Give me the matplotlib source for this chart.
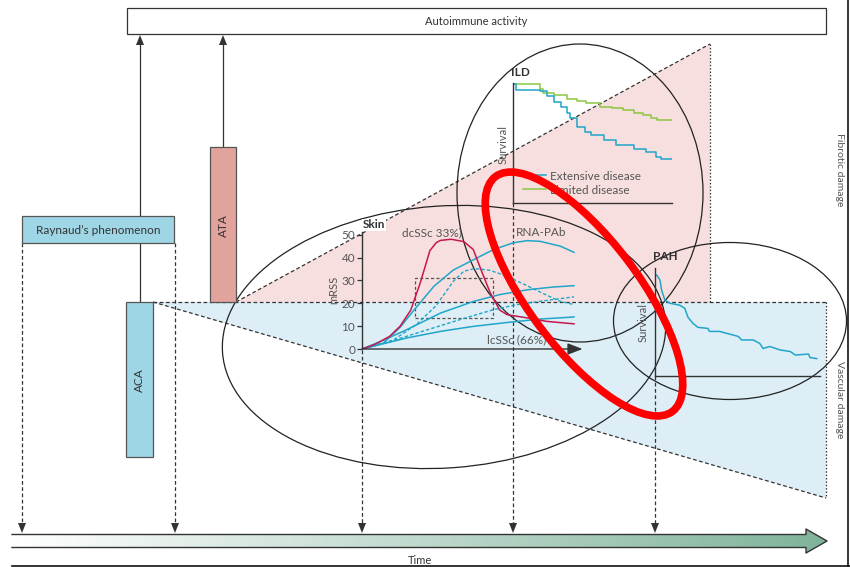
import numpy as np
import matplotlib
matplotlib.use("Agg")
import matplotlib.pyplot as plt
from matplotlib.patches import Polygon, Rectangle, Ellipse
from matplotlib.colors import LinearSegmentedColormap
from matplotlib.lines import Line2D

plt.rcParams['font.family'] = ['Lato', 'DejaVu Sans']

W, H = 850, 567

# skin score (mRSS) courses, time in arbitrary units 0-10
dcssc_t = [0, 0.6, 1.3, 1.8, 2.3, 2.75, 3.2, 3.5, 3.7, 4.2, 4.8, 5.25, 5.6, 6.05, 6.5, 6.85, 7.8, 8.7, 10]
dcssc_v = [0, 2.0, 5.5, 10, 17, 29, 43, 46.5, 47.5, 48, 47, 43.5, 35, 24.5, 17, 15, 13.6, 12.1, 11]

rnapab_t = [0, 1.0, 1.8, 2.45, 3.4, 4.3, 5.25, 6.2, 7.15, 7.8, 8.4, 9.35, 10]
rnapab_v = [0, 2.5, 9.5, 17, 27.5, 34.5, 39, 43.5, 46.5, 47.4, 47.1, 45, 42.3]

mid_t = [0, 1.0, 2.1, 3.7, 5.25, 6.5, 7.8, 9.0, 10]
mid_v = [0, 3.8, 8.4, 15.7, 20.8, 23.8, 25.9, 27.1, 27.7]

low_t = [0, 2.1, 3.7, 5.25, 6.85, 8.4, 10]
low_v = [0, 4.8, 7.7, 9.9, 11.6, 13.1, 14.0]

dash_hi_t = [0, 1.5, 2.6, 3.5, 4.3, 4.8, 5.3, 6.0, 6.8, 7.6, 8.5, 9.3, 10]
dash_hi_v = [0, 4, 11, 19, 29.5, 34, 35.2, 34.5, 32, 28.5, 24.5, 21, 19.4]

dash_lo_t = [0, 1.3, 2.6, 4.6, 6.2, 7.3, 8.5, 10]
dash_lo_v = [0, 3.2, 7, 12.8, 17.2, 19.4, 21, 22.8]

skin_box = (2.5, 6.2, 13.5, 31)   # t0, t1, v0, v1
skin_ticks = [0, 10, 20, 30, 40, 50]

# ILD survival
ild_lim_t = [0, 1.7, 1.9, 2.6, 3.4, 4.0, 4.6, 5.5, 6.2, 6.9, 7.6, 8.2, 8.7, 9.1, 10]
ild_lim_s = [1.0, 0.96, 0.93, 0.91, 0.88, 0.86, 0.84, 0.81, 0.80, 0.78, 0.76, 0.74, 0.72, 0.70, 0.70]
ild_ext_t = [0, 0.2, 1.7, 2.1, 2.6, 3.0, 3.4, 3.6, 4.0, 4.5, 4.9, 5.7, 6.5, 7.6, 8.4, 9.0, 9.3, 10]
ild_ext_s = [1.0, 0.95, 0.94, 0.90, 0.85, 0.81, 0.76, 0.72, 0.64, 0.60, 0.57, 0.53, 0.49, 0.46, 0.43, 0.39, 0.37, 0.37]

# PAH survival
pah_t = [0.1, 0.3, 0.4, 0.6, 0.9, 1.5, 1.8, 2.0, 2.3, 2.6, 3.2, 3.3, 3.9, 5.05, 5.25,
         5.95, 6.35, 6.55, 6.95, 7.6, 8.2, 8.5, 9.3, 9.4, 9.8]
pah_s = [1.0, 0.95, 0.85, 0.75, 0.72, 0.70, 0.67, 0.58, 0.52, 0.48, 0.47, 0.44, 0.44, 0.39, 0.355,
         0.355, 0.32, 0.27, 0.29, 0.255, 0.24, 0.205, 0.215, 0.18, 0.17]

RED = '#c8174e'
BLUE = '#1fa6c9'
GREEN = '#8cc63f'
DARK = '#333333'
PINK = '#f8dfdf'
LBLUE = '#ddeef6'
BOXBLUE = '#9fd6e6'
BOXRED = '#e2a39c'

fig = plt.figure(figsize=(W / 100, H / 100), dpi=100)
ax = fig.add_axes([0, 0, 1, 1])
ax.set_xlim(0, W)
ax.set_ylim(H, 0)
ax.axis('off')


def rect_px(x0, y0, x1, y1):
    # figure fraction rectangle from pixel corners (y down)
    return [x0 / W, 1 - y1 / H, (x1 - x0) / W, (y1 - y0) / H]


def head(x, y, up=False, size=5):
    d = -1 if up else 1
    ax.add_patch(Polygon([(x - size * 0.8, y - d * size * 2), (x + size * 0.8, y - d * size * 2), (x, y)],
                         closed=True, color=DARK, lw=0, zorder=6))


dash = (0, (3, 2))
dot = (0, (1.2, 1.5))

# damage zones
ax.add_patch(Polygon([(236, 302), (710, 44), (710, 302)], closed=True, fc=PINK, ec='none', zorder=0))
ax.add_patch(Polygon([(153, 302), (826, 302), (826, 498)], closed=True, fc=LBLUE, ec='none', zorder=0))
ax.plot([236, 710], [302, 44], ls=dash, color=DARK, lw=0.9, zorder=1)
ax.plot([710, 710], [44, 302], ls=dot, color=DARK, lw=0.9, zorder=1)
ax.plot([153, 826], [302, 302], ls=dash, color=DARK, lw=0.9, zorder=1)
ax.plot([153, 826], [302, 498], ls=dash, color=DARK, lw=0.9, zorder=1)
ax.plot([826, 826], [302, 498], ls=dot, color=DARK, lw=0.9, zorder=1)

# autoimmune activity box
ax.add_patch(Rectangle((127, 8), 699, 26, fc='white', ec=DARK, lw=0.9, zorder=3))
ax.text(476, 21.5, 'Autoimmune activity', ha='center', va='center', fontsize=8, color=DARK, zorder=4)

# antibody links up to autoimmune activity
ax.plot([140, 140], [302, 42], color=DARK, lw=0.9, zorder=2)
head(140, 35, up=True)
ax.plot([223, 223], [147, 42], color=DARK, lw=0.9, zorder=2)
head(223, 35, up=True)

ax.add_patch(Rectangle((22, 216), 152, 27, fc=BOXBLUE, ec='#555555', lw=0.9, zorder=3))
ax.text(98, 230, 'Raynaud\u2019s phenomenon', ha='center', va='center', fontsize=8.5, color=DARK, zorder=4)
ax.add_patch(Rectangle((126, 302), 27, 155, fc=BOXBLUE, ec='#555555', lw=0.9, zorder=3))
ax.text(139.5, 380, 'ACA', ha='center', va='center', rotation=90, fontsize=8.5, color=DARK, zorder=4)
ax.add_patch(Rectangle((210, 147), 26, 155, fc=BOXRED, ec='#555555', lw=0.9, zorder=3))
ax.text(223, 226, 'ATA', ha='center', va='center', rotation=90, fontsize=8.5, color=DARK, zorder=4)

# organ involvement ellipses
for (cx, cy, w, h, ang) in [(444, 337, 444, 262, -4), (580, 193, 246, 298, 0), (730, 321, 233, 157, 0)]:
    ax.add_patch(Ellipse((cx, cy), w, h, angle=ang, fill=False, ec='#222222', lw=0.9, zorder=2))

# dashed drops onto the time axis
for x, y0 in [(22, 243), (175, 243), (362, 350), (513, 203), (655, 376)]:
    ax.plot([x, x], [y0, 523], ls=dash, color=DARK, lw=0.9, zorder=2)
    head(x, 533)

# time arrow with green gradient
arrow = Polygon([(12, 534.5), (806, 534.5), (806, 529), (827, 541), (806, 553), (806, 547.5), (12, 547.5)],
                closed=True, fc='none', ec='none')
ax.add_patch(arrow)
cmap = LinearSegmentedColormap.from_list('time', ['#ffffff', '#7fb39a'])
grad = ax.imshow(np.linspace(0, 1, 256)[None, :], cmap=cmap, aspect='auto',
                 extent=[12, 828, 554, 528], zorder=3)
grad.set_clip_path(arrow)
ax.plot([12, 806, 806, 827, 806, 806, 12], [534.5, 534.5, 529, 541, 553, 547.5, 547.5],
        color=DARK, lw=1.0, zorder=4)
ax.text(420, 560, 'Time', ha='center', va='center', fontsize=8, color=DARK, zorder=4)

# frame on right and bottom
ax.plot([848, 848], [0, 567], color='#111111', lw=1.2, zorder=5)
ax.plot([12, 850], [565.5, 565.5], color='#111111', lw=1.2, zorder=5)
ax.text(840, 170, 'Fibrotic damage', rotation=-90, ha='center', va='center', fontsize=7.5, color='#555555')
ax.text(840, 400, 'Vascular damage', rotation=-90, ha='center', va='center', fontsize=7.5, color='#555555')

# panel labels
ax.text(374, 225, 'Skin', ha='center', va='center', fontsize=8.5, fontweight='bold', color=DARK, zorder=6,
        bbox=dict(fc='white', ec='none', pad=0.6))
ax.text(334, 290, 'mRSS', rotation=90, ha='center', va='center', fontsize=8, color='#555555')
ax.text(432, 233, 'dcSSc 33%)', ha='center', va='center', fontsize=8.5, color='#555555', zorder=6)
ax.text(541, 233, 'RNA-PAb', ha='center', va='center', fontsize=8.5, color='#555555', zorder=6)
ax.text(517, 340, 'lcSSc (66%)', ha='center', va='center', fontsize=8.5, color='#555555', zorder=6)
ax.text(520, 72, 'ILD', ha='center', va='center', fontsize=8.5, fontweight='bold', color=DARK)
ax.text(503, 145, 'Survival', rotation=90, ha='center', va='center', fontsize=8, color='#555555')
ax.text(665, 256, 'PAH', ha='center', va='center', fontsize=8.5, fontweight='bold', color=DARK)
ax.text(643, 323, 'Survival', rotation=90, ha='center', va='center', fontsize=8, color='#555555')

# skin score panel
sk = fig.add_axes(rect_px(362, 349 - 51 * 2.286, 362 + 10.4 * 21.2, 349))
sk.patch.set_visible(False)
sk.set_xlim(0, 10.4)
sk.set_ylim(0, 51)
for s in ['top', 'right', 'bottom']:
    sk.spines[s].set_visible(False)
sk.spines['left'].set_color(DARK)
sk.spines['left'].set_linewidth(1.0)
sk.set_xticks([])
sk.set_yticks(skin_ticks)
sk.tick_params(axis='y', length=3.5, width=0.9, color=DARK, labelsize=8.5, labelcolor='#555555', pad=1.5)
sk.annotate('', xy=(10.4, 0), xytext=(0, 0), annotation_clip=False,
            arrowprops=dict(arrowstyle='-|>,head_length=0.9,head_width=0.35', color=DARK, lw=1.0,
                            shrinkA=0, shrinkB=0))
t0, t1, v0, v1 = skin_box
sk.add_patch(Rectangle((t0, v0), t1 - t0, v1 - v0, fill=False, ec='#555555', ls=(0, (2.5, 1.8)), lw=0.9))
sk.plot(dash_hi_t, dash_hi_v, color=BLUE, lw=1.0, ls=(0, (2.5, 1.5)))
sk.plot(dash_lo_t, dash_lo_v, color=BLUE, lw=1.0, ls=(0, (2.5, 1.5)))
sk.plot(low_t, low_v, color=BLUE, lw=1.1)
sk.plot(mid_t, mid_v, color=BLUE, lw=1.1)
sk.plot(rnapab_t, rnapab_v, color=BLUE, lw=1.1)
sk.plot(dcssc_t, dcssc_v, color=RED, lw=1.1)

# ILD survival panel
ild = fig.add_axes(rect_px(513.3, 203.3 - 1.008 * 119, 671.7, 203.3))
ild.patch.set_visible(False)
ild.set_xlim(0, 10)
ild.set_ylim(0, 1.008)
for s in ['top', 'right']:
    ild.spines[s].set_visible(False)
for s in ['left', 'bottom']:
    ild.spines[s].set_color(DARK)
    ild.spines[s].set_linewidth(1.0)
ild.set_xticks([])
ild.set_yticks([])
ild.step(ild_lim_t, ild_lim_s, where='post', color=GREEN, lw=1.1)
ild.step(ild_ext_t, ild_ext_s, where='post', color=BLUE, lw=1.1)
ild.legend([Line2D([], [], color=BLUE, lw=1.1), Line2D([], [], color=GREEN, lw=1.1)],
           ['Extensive disease', 'Limited disease'], loc='lower left', bbox_to_anchor=(0.06, 0.065),
           frameon=False, fontsize=8.5, handlelength=2.0, handletextpad=0.3, borderpad=0,
           borderaxespad=0, labelspacing=0.25, labelcolor='#555555')

# PAH survival panel
pah = fig.add_axes(rect_px(655, 268, 820, 375.7))
pah.patch.set_visible(False)
pah.set_xlim(0, 10)
pah.set_ylim(0, (375.7 - 268) / 100.7)
for s in ['top', 'right']:
    pah.spines[s].set_visible(False)
for s in ['left', 'bottom']:
    pah.spines[s].set_color(DARK)
    pah.spines[s].set_linewidth(1.0)
pah.set_xticks([])
pah.set_yticks([])
pah.plot(pah_t, pah_s, color=BLUE, lw=1.1)

# highlight ring on top of everything
top = fig.add_axes([0, 0, 1, 1])
top.patch.set_visible(False)
top.set_xlim(0, W)
top.set_ylim(H, 0)
top.axis('off')
top.add_patch(Ellipse((584, 294), 294, 110, angle=53, fill=False, ec='#ff0000', lw=5.5))

fig.savefig('out.png', dpi=100)
